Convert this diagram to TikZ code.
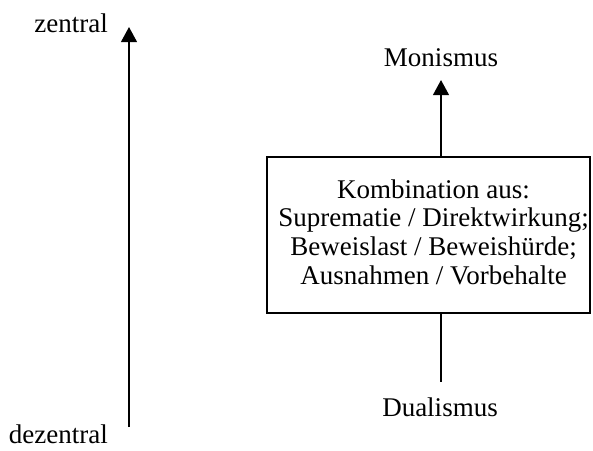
\documentclass[tikz,border=0pt]{standalone}
\usepackage{fontspec}
\setmainfont{Liberation Serif}
\usetikzlibrary{arrows.meta}
\begin{document}
\begin{tikzpicture}[x=1pt,y=1pt,
                    beschr/.style={font=\fontsize{27}{28.7}\selectfont, inner sep=0pt},
                    pfeil/.style={line width=2pt, -{Triangle[width=15.7pt,length=15pt]}},
                    linie/.style={line width=2pt}]
                    \useasboundingbox (0,0) rectangle (593,-450);

                    % Achse links
                    \coordinate (unten) at (129,-427);
                    \coordinate (oben) at (129,-27);
                    \draw[pfeil] (unten) -- (oben);
                    \node[beschr, anchor=base east] (zentral) at (108,-32) {zentral};
                    \node[beschr, anchor=base east] (dezentral) at (108,-443) {dezentral};

                    % Kasten rechts
                    \node[linie, draw, minimum width=323, minimum height=156, inner sep=0pt] (kasten) at (428.5,-235) {};
                    \node[beschr, align=center] (kombi) at (433.5,-232) {Kombination aus:\\ Suprematie / Direktwirkung;\\ Beweislast / Beweishürde;\\ Ausnahmen / Vorbehalte};
                    \node[beschr, anchor=base] (monismus) at (441,-66) {Monismus};
                    \node[beschr, anchor=base] (dualismus) at (440,-416) {Dualismus};
                    \coordinate (spitze) at (441,-80);
                    \coordinate (fuss) at (441,-382);
                    \draw[pfeil] (kasten.north -| spitze) -- (spitze);
                    \draw[linie] (kasten.south -| fuss) -- (fuss);
                \end{tikzpicture}
\end{document}
